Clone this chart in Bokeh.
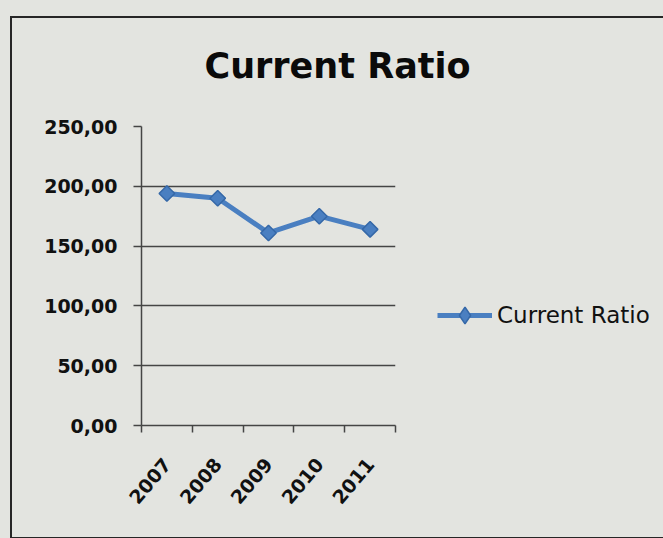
import math
import re
from bokeh.plotting import figure
from bokeh.models import Range1d, FixedTicker, Legend
from bokeh.embed import file_html
from bokeh.resources import INLINE

# ---- data ----
years = ["2007", "2008", "2009", "2010", "2011"]
current_ratio = [194.0, 190.0, 161.0, 175.0, 164.0]
y_ticks = [0, 50, 100, 150, 200, 250]
y_tick_labels = ["0,00", "50,00", "100,00", "150,00", "200,00", "250,00"]
series_name = "Current Ratio"
title_text = "Current Ratio"

BG = "#e3e4e0"
GRID = "#454545"
BLUE = "#4a7fc1"
BLUE_DARK = "#3568a8"
FONT = "DejaVu Sans"

xs = [i + 0.5 for i in range(len(years))]

p = figure(frame_width=254, frame_height=299, output_backend="svg", toolbar_location=None,
           x_range=Range1d(0, len(years)), y_range=Range1d(0, 250),
           min_border_left=141, min_border_right=268,
           min_border_top=126, min_border_bottom=113)
p.background_fill_color = BG
p.border_fill_color = BG
p.outline_line_color = None

line = p.line(xs, current_ratio, line_color=BLUE, line_width=5)
# diamond used for the legend symbol; sits hidden under the first plotted marker
legend_marker = p.scatter(xs[:1], current_ratio[:1], marker="diamond", size=9,
                          fill_color=BLUE, line_color=BLUE_DARK, line_width=1.5)
pts = p.scatter(xs, current_ratio, marker="square", angle=math.pi / 4, size=11,
                fill_color=BLUE, line_color=BLUE_DARK, line_width=1.5)

# title
p.title.text = title_text
p.title.align = "left"
p.title.offset = 63
p.title.standoff = 82
p.title.text_font = FONT
p.title.text_font_style = "bold"
p.title.text_font_size = "35px"
p.title.text_color = "#0a0a0a"

# y axis
p.yaxis.ticker = FixedTicker(ticks=y_ticks)
p.yaxis.major_label_overrides = {t: l for t, l in zip(y_ticks, y_tick_labels)}
p.yaxis.major_tick_out = 8
p.yaxis.major_tick_in = 0
p.yaxis.minor_tick_out = 0
p.yaxis.minor_tick_in = 0
p.yaxis.major_label_standoff = 16
p.yaxis.major_label_text_font = FONT
p.yaxis.major_label_text_font_style = "bold"
p.yaxis.major_label_text_font_size = "19px"
p.yaxis.major_label_text_color = "#111111"
p.yaxis.axis_line_color = GRID
p.yaxis.axis_line_width = 1.5
p.yaxis.major_tick_line_color = GRID
p.yaxis.major_tick_line_width = 1.5

# x axis: labels at category centres, tick marks at category boundaries
p.xaxis.ticker = FixedTicker(ticks=xs, minor_ticks=list(range(len(years) + 1)))
p.xaxis.major_label_overrides = {x: y for x, y in zip(xs, years)}
p.xaxis.major_tick_out = 0
p.xaxis.major_tick_in = 0
p.xaxis.minor_tick_out = 7
p.xaxis.minor_tick_in = 0
p.xaxis.minor_tick_line_color = GRID
p.xaxis.minor_tick_line_width = 1.5
p.xaxis.axis_line_color = GRID
p.xaxis.axis_line_width = 1.5
p.xaxis.major_label_orientation = math.radians(50)
p.xaxis.major_label_standoff = 28
p.xaxis.major_label_text_font = FONT
p.xaxis.major_label_text_font_style = "bold"
p.xaxis.major_label_text_font_size = "19px"
p.xaxis.major_label_text_color = "#111111"

# grid
p.xgrid.grid_line_color = None
p.ygrid.ticker = FixedTicker(ticks=y_ticks)
p.ygrid.grid_line_color = GRID
p.ygrid.grid_line_width = 1.5

# legend in the right panel
lg = Legend(items=[(series_name, [line, legend_marker])], location=(42, 89),
            padding=0, margin=0, spacing=0, border_line_color=None,
            background_fill_alpha=0, glyph_width=55, glyph_height=42,
            label_height=20, label_standoff=5, label_text_font=FONT,
            label_text_font_size="23px", label_text_color="#111111")
p.add_layout(lg, "right")

html = file_html(p, INLINE)
frame_div = ('<div style="position:fixed;left:10px;top:16px;width:700px;height:519px;'
             'border-left:2px solid #262626;border-top:2px solid #262626;'
             'border-bottom:2px solid #262626;pointer-events:none;z-index:10"></div>')
head_end = html.rfind("</head>")
head = html[:head_end] + "<style>html, body { background: %s; }</style>" % BG
tail = re.sub(r"<body[^>]*>", lambda m: m.group(0) + frame_div, html[head_end:], count=1)
html = head + tail
open("out.html", "w").write(html)
